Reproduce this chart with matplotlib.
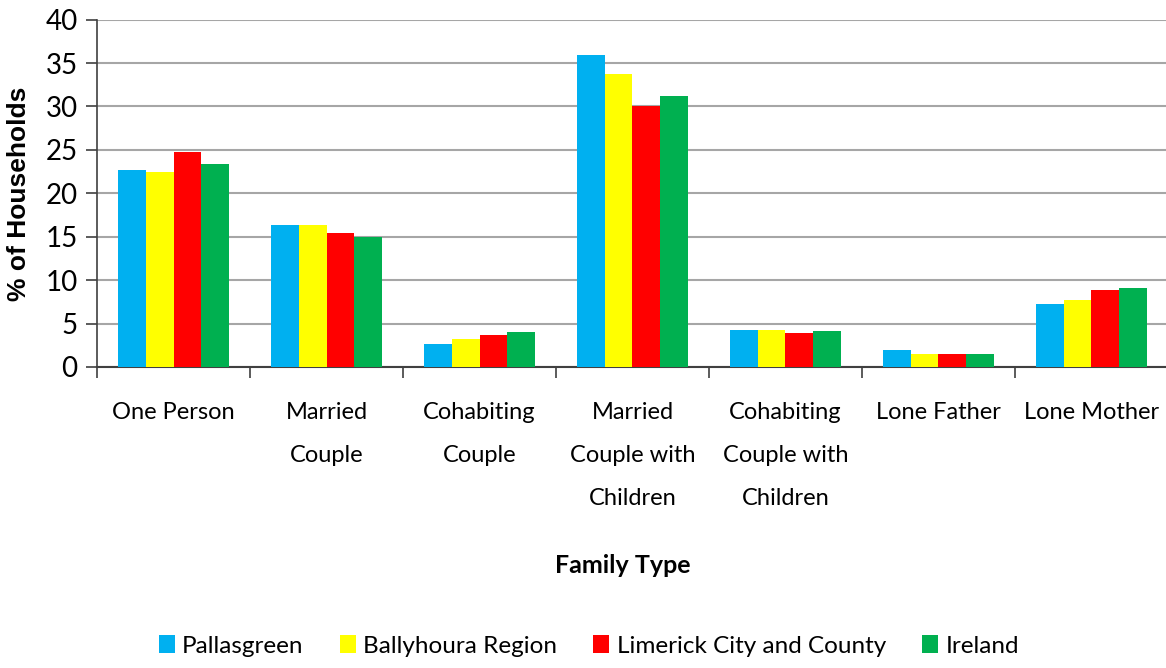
import matplotlib.pyplot as plt
import numpy as np

# family types and % of households per area
categories = ["One Person", "Married\nCouple", "Cohabiting\nCouple",
              "Married\nCouple with\nChildren", "Cohabiting\nCouple with\nChildren",
              "Lone Father", "Lone Mother"]
pallasgreen = [22.7, 16.4, 2.65, 35.9, 4.3, 2.0, 7.3]
ballyhoura = [22.5, 16.4, 3.2, 33.75, 4.3, 1.45, 7.7]
limerick = [24.8, 15.45, 3.65, 30.05, 3.95, 1.45, 8.85]
ireland = [23.4, 15.0, 4.0, 31.2, 4.15, 1.45, 9.05]

series = [("Pallasgreen", pallasgreen, "#00B0F0"),
          ("Ballyhoura Region", ballyhoura, "#FFFF00"),
          ("Limerick City and County", limerick, "#FF0000"),
          ("Ireland", ireland, "#00B050")]

plt.rcParams['font.family'] = ['Lato', 'DejaVu Sans']

fig = plt.figure(figsize=(11.66, 6.68), dpi=100)
ax = fig.add_axes([0.0832, 0.4506, 0.9185, 0.520])

x = np.arange(len(categories))
w = 0.18
for i, (name, vals, col) in enumerate(series):
    ax.bar(x + (i - 1.5) * w, vals, w, color=col, label=name, zorder=3)

ax.set_xlim(-0.5, len(categories) - 0.5)
ax.set_ylim(0, 40)
ax.set_yticks(range(0, 41, 5))
ax.yaxis.grid(True, color="#A6A6A6", linewidth=1.5, zorder=0)
ax.set_axisbelow(True)

# boundary ticks as major, labels on minor centers
ax.set_xticks(np.arange(-0.5, len(categories), 1.0))
ax.set_xticklabels([])
ax.set_xticks(x, minor=True)
ax.set_xticklabels(categories, minor=True, fontsize=17, va="top")
for t in ax.get_xticklabels(minor=True):
    t.set_linespacing(2.3)
ax.tick_params(axis="x", which="minor", length=0, pad=25)
ax.tick_params(axis="x", which="major", length=8, width=1.2, color="#404040")
ax.tick_params(axis="y", labelsize=20, length=8, width=1.2, color="#404040", pad=6)

for s in ["top", "right"]:
    ax.spines[s].set_visible(False)
ax.spines["left"].set_color("#404040")
ax.spines["bottom"].set_color("#404040")
ax.spines["left"].set_linewidth(1.2)
ax.spines["bottom"].set_linewidth(1.5)

ax.set_ylabel("% of Households", fontsize=19, fontweight="bold",
              family=["Liberation Sans", "DejaVu Sans"], labelpad=10)
fig.text(0.534, 0.153, "Family Type", fontsize=18, fontweight="bold",
         ha="center", va="center")

fig.legend(loc="center", bbox_to_anchor=(0.505, 0.033), ncol=4, frameon=False,
           fontsize=17.5, handlelength=0.65, handleheight=0.75, handletextpad=0.3,
           columnspacing=1.5)

fig.savefig("out.png", dpi=100)
